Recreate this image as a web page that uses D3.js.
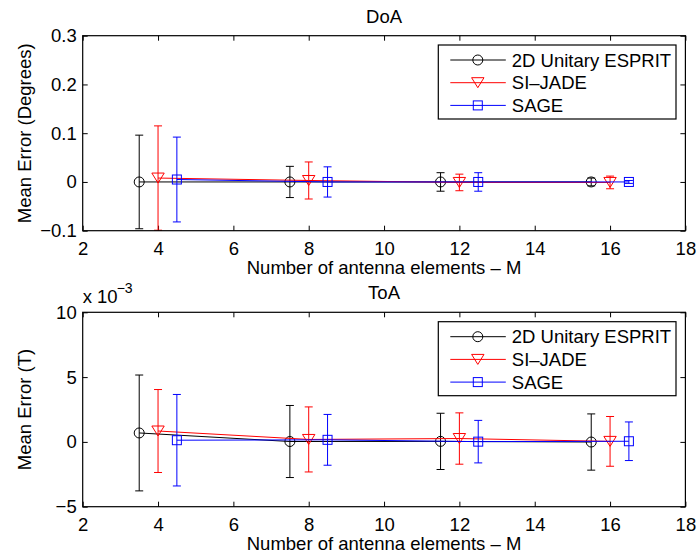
<!DOCTYPE html>
<html>
<head>
<meta charset="utf-8">
<script src="https://cdn.jsdelivr.net/npm/d3@7"></script>
<style>
  html, body { margin: 0; padding: 0; background: #fff; }
  svg { display: block; }
  text { font-family: "Liberation Sans", Arial, Helvetica, sans-serif; fill: #000; }
</style>
</head>
<body>
<svg id="chart" width="697" height="559"></svg>
<script>
// Antenna-count offsets per estimator (bars are staggered around M = 4, 8, 12, 16)
const seriesNames = ["2D Unitary ESPRIT", "SI\u2013JADE", "SAGE"];
const seriesColors = ["#000000", "#ff0000", "#0000ff"];
const seriesMarkers = ["circle", "triangle", "square"];

const xEsprit = [3.5, 7.5, 11.5, 15.5];
const xSiJade = [4, 8, 12, 16];
const xSage = [4.5, 8.5, 12.5, 16.5];

// DoA mean error (degrees) and error-bar half widths
const doaEspritMean = [0.000, 0.000, 0.000, 0.000];
const doaEspritErr  = [0.096, 0.032, 0.019, 0.008];
const doaSiJadeMean = [0.008, 0.003, -0.001, -0.001];
const doaSiJadeErr  = [0.107, 0.038, 0.017, 0.013];
const doaSageMean   = [0.005, 0.000, 0.000, 0.000];
const doaSageErr    = [0.087, 0.031, 0.019, 0.003];

// ToA mean error (units of 1e-3 T) and error-bar half widths
const toaEspritMean = [0.69, 0.03, 0.04, -0.01];
const toaEspritErr  = [4.47, 2.78, 2.17, 2.17];
const toaSiJadeMean = [0.84, 0.19, 0.26, 0.04];
const toaSiJadeErr  = [3.20, 2.51, 1.98, 1.92];
const toaSageMean   = [0.13, 0.16, 0.02, 0.05];
const toaSageErr    = [3.53, 1.96, 1.64, 1.49];

const xTicks = [2, 4, 6, 8, 10, 12, 14, 16, 18];
const doaYTicks = [-0.1, 0, 0.1, 0.2, 0.3];
const toaYTicks = [-5, 0, 5, 10];

const xLabel = "Number of antenna elements \u2013 M";

const svg = d3.select("#chart");
const FS = 18.5;

function makeSeries(xs, means, errs) {
  return xs.map((x, i) => ({ x: x, y: means[i], e: errs[i] }));
}

const panels = [
  {
    title: "DoA",
    yLabel: "Mean Error (Degrees)",
    top: 35.7, bottom: 230.7,
    yDomain: [-0.1, 0.3], yTicks: doaYTicks,
    yFormat: d => d === 0 ? "0" : d3.format(".1f")(d),
    legendTop: 45,
    series: [
      makeSeries(xEsprit, doaEspritMean, doaEspritErr),
      makeSeries(xSiJade, doaSiJadeMean, doaSiJadeErr),
      makeSeries(xSage, doaSageMean, doaSageErr)
    ],
    exponent: null
  },
  {
    title: "ToA",
    yLabel: "Mean Error (T)",
    top: 312.3, bottom: 506.7,
    yDomain: [-5, 10], yTicks: toaYTicks,
    yFormat: d => d3.format("d")(d),
    legendTop: 321.7,
    series: [
      makeSeries(xEsprit, toaEspritMean, toaEspritErr),
      makeSeries(xSiJade, toaSiJadeMean, toaSiJadeErr),
      makeSeries(xSage, toaSageMean, toaSageErr)
    ],
    exponent: "\u22123"
  }
];

const left = 82.7, right = 685.4;
const x = d3.scaleLinear().domain([2, 18]).range([left, right]);

function drawMarker(g, type, cx, cy, color) {
  if (type === "circle") {
    g.append("circle").attr("cx", cx).attr("cy", cy).attr("r", 5)
      .attr("fill", "none").attr("stroke", color).attr("stroke-width", 1);
  } else if (type === "triangle") {
    const w = 6.2, h = 10;
    g.append("path")
      .attr("d", `M${cx - w},${cy - h / 2}L${cx + w},${cy - h / 2}L${cx},${cy + h / 2}Z`)
      .attr("fill", "none").attr("stroke", color).attr("stroke-width", 1);
  } else {
    const s = 4.5;
    g.append("rect").attr("x", cx - s).attr("y", cy - s).attr("width", 2 * s).attr("height", 2 * s)
      .attr("fill", "none").attr("stroke", color).attr("stroke-width", 1);
  }
}

panels.forEach(p => {
  const y = d3.scaleLinear().domain(p.yDomain).range([p.bottom, p.top]);
  const g = svg.append("g");

  // Axes with inward ticks on all four sides
  const axB = g.append("g").attr("transform", `translate(0,${p.bottom})`)
    .call(d3.axisBottom(x).tickValues(xTicks).tickSizeInner(-5).tickSizeOuter(0).tickPadding(11));
  const axT = g.append("g").attr("transform", `translate(0,${p.top})`)
    .call(d3.axisTop(x).tickValues(xTicks).tickSizeInner(-5).tickSizeOuter(0).tickFormat(""));
  const axL = g.append("g").attr("transform", `translate(${left},0)`)
    .call(d3.axisLeft(y).tickValues(p.yTicks).tickSizeInner(-5).tickSizeOuter(0).tickPadding(6).tickFormat(p.yFormat));
  const axR = g.append("g").attr("transform", `translate(${right},0)`)
    .call(d3.axisRight(y).tickValues(p.yTicks).tickSizeInner(-5).tickSizeOuter(0).tickFormat(""));
  [axB, axT, axL, axR].forEach(a => {
    a.select(".domain").remove();
    a.selectAll("line").attr("stroke", "#000").attr("stroke-width", 1);
    a.selectAll("text").attr("font-size", FS).attr("font-family", "Liberation Sans, Arial, sans-serif").attr("fill", "#000");
  });

  // Series: connecting line, error bars, markers
  p.series.forEach((data, si) => {
    const color = seriesColors[si];
    const sg = g.append("g");
    sg.append("path").datum(data)
      .attr("d", d3.line().x(d => x(d.x)).y(d => y(d.y)))
      .attr("fill", "none").attr("stroke", color).attr("stroke-width", 1);
    data.forEach(d => {
      const cx = x(d.x), y0 = y(d.y - d.e), y1 = y(d.y + d.e), cap = 4;
      sg.append("line").attr("x1", cx).attr("x2", cx).attr("y1", y0).attr("y2", y1)
        .attr("stroke", color).attr("stroke-width", 1);
      [y0, y1].forEach(yy => sg.append("line").attr("x1", cx - cap).attr("x2", cx + cap)
        .attr("y1", yy).attr("y2", yy).attr("stroke", color).attr("stroke-width", 1));
      drawMarker(sg, seriesMarkers[si], cx, y(d.y), color);
    });
  });

  // Plot box
  g.append("rect").attr("x", left).attr("y", p.top)
    .attr("width", right - left).attr("height", p.bottom - p.top)
    .attr("fill", "none").attr("stroke", "#000").attr("stroke-width", 1.2);

  // Title and axis labels
  g.append("text").attr("x", (left + right) / 2).attr("y", p.top - 13.2)
    .attr("text-anchor", "middle").attr("font-size", FS).text(p.title);
  g.append("text").attr("x", (left + right) / 2).attr("y", p.bottom + 43.5)
    .attr("text-anchor", "middle").attr("font-size", FS).text(xLabel);
  g.append("text")
    .attr("transform", `translate(31,${(p.top + p.bottom) / 2}) rotate(-90)`)
    .attr("text-anchor", "middle").attr("font-size", FS).text(p.yLabel);

  if (p.exponent) {
    g.append("text").attr("x", left).attr("y", p.top - 9).attr("font-size", FS).text("x 10");
    g.append("text").attr("x", left + 34).attr("y", p.top - 19.5).attr("font-size", 14).text(p.exponent);
  }

  // Legend
  const lx = 438.3, lw = 237.7, lh = 74, lt = p.legendTop;
  const lg = g.append("g");
  lg.append("rect").attr("x", lx).attr("y", lt).attr("width", lw).attr("height", lh)
    .attr("fill", "#fff").attr("stroke", "#000").attr("stroke-width", 1.2);
  seriesNames.forEach((name, i) => {
    const ry = lt + 15 + i * 22.7;
    lg.append("line").attr("x1", lx + 12).attr("x2", lx + 67.5).attr("y1", ry).attr("y2", ry)
      .attr("stroke", seriesColors[i]).attr("stroke-width", 1);
    drawMarker(lg, seriesMarkers[i], lx + 39.5, ry, seriesColors[i]);
    lg.append("text").attr("x", lx + 73.5).attr("y", ry).attr("dy", "0.36em")
      .attr("font-size", FS).text(name);
  });
});
</script>
</body>
</html>
